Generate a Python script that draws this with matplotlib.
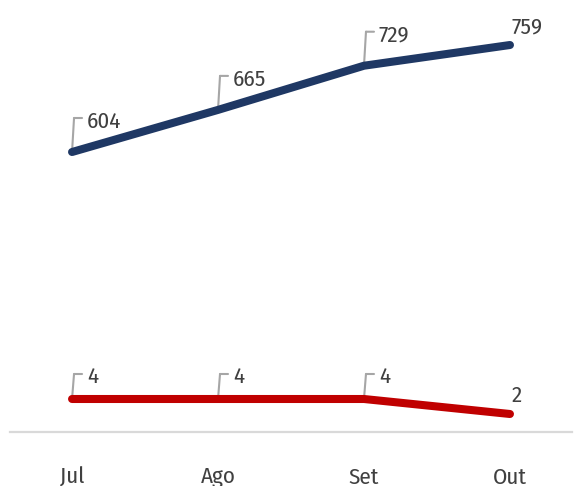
import matplotlib
matplotlib.use("Agg")
import matplotlib.pyplot as plt
from matplotlib.transforms import offset_copy

plt.rcParams['font.family'] = ['Fira Sans Condensed', 'DejaVu Sans']
plt.rcParams['font.weight'] = 'normal'

months = ["Jul", "Ago", "Set", "Out"]
blue_values = [604, 665, 729, 759]
red_values = [4, 4, 4, 2]

BLUE = "#1f3864"
RED = "#c00000"
LABEL_COLOR = "#404040"
LEADER_COLOR = "#a6a6a6"
FS = 16.5

fig = plt.figure(figsize=(5.74, 4.86), dpi=100)
ax = fig.add_axes([10/574, 54/486, 562/574, 432/486])
ax2 = ax.twinx()

x = list(range(len(months)))
ax.set_xlim(-0.425, 3.425)
ax.set_ylim(198.4, 824.2)
ax2.set_ylim(-0.4, 57.2)

ax.plot(x, blue_values, color=BLUE, lw=5.8, solid_capstyle='round', solid_joinstyle='round', zorder=3)
ax2.plot(x, red_values, color=RED, lw=5.8, solid_capstyle='round', solid_joinstyle='round', zorder=3)

for a in (ax, ax2):
    for s in ("top", "right", "left"):
        a.spines[s].set_visible(False)
    a.set_yticks([])
ax2.spines["bottom"].set_visible(False)
ax.spines["bottom"].set_color("#d9d9d9")
ax.spines["bottom"].set_linewidth(1.6)

ax.set_xticks(x)
ax.set_xticklabels(months, fontsize=FS, color="#404040")
ax.tick_params(axis='x', length=0, pad=25)


def label(a, xi, yi, text, leader_h, text_dy, last):
    if last:
        a.annotate(text, xy=(xi, yi), xytext=(2, 12), textcoords='offset pixels',
                   ha='left', va='baseline', fontsize=FS, color=LABEL_COLOR, zorder=5)
        return
    a.annotate('', xy=(xi, yi), xytext=(2, leader_h), textcoords='offset pixels',
               arrowprops=dict(arrowstyle='-', color=LEADER_COLOR, lw=1.5,
                               shrinkA=0, shrinkB=0), zorder=2)
    a.annotate('', xy=(xi, yi), xycoords=offset_copy(a.transData, fig=fig, x=2, y=leader_h, units='dots'),
               xytext=(8, 0), textcoords='offset pixels',
               arrowprops=dict(arrowstyle='-', color=LEADER_COLOR, lw=1.5,
                               shrinkA=0, shrinkB=0), zorder=2)
    a.annotate(text, xy=(xi, yi), xytext=(15, text_dy), textcoords='offset pixels',
               ha='left', va='baseline', fontsize=FS, color=LABEL_COLOR, zorder=5)


n = len(months)
for i in range(n):
    label(ax, x[i], blue_values[i], str(blue_values[i]), 34, 24, i == n - 1)
    label(ax2, x[i], red_values[i], str(red_values[i]), 25, 16, i == n - 1)

fig.savefig("out.png", dpi=100)
